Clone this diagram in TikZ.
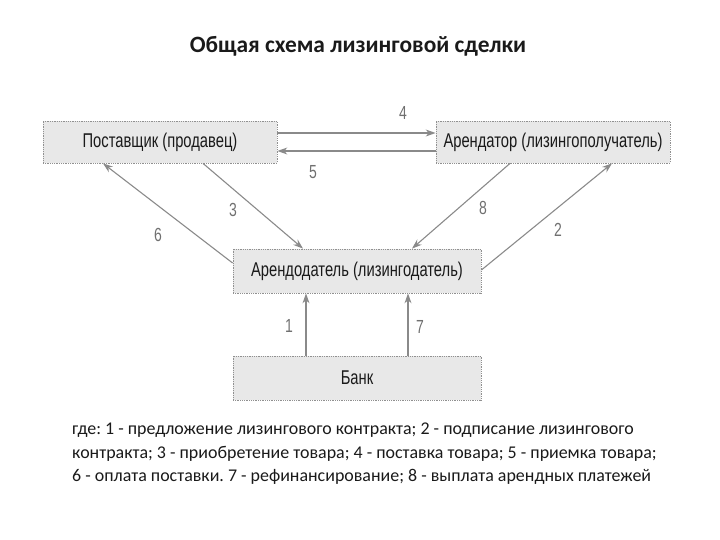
\documentclass[tikz,border=0pt]{standalone}
\usepackage{fontspec}
\setmainfont{Carlito}
\newfontfamily\boxfont[FakeStretch=0.74]{Liberation Sans}
\usetikzlibrary{arrows.meta,calc}
\frenchspacing
\definecolor{boxfill}{HTML}{E8E8E8}
\definecolor{boxline}{HTML}{909090}
\definecolor{arr}{HTML}{8A8A8A}
\definecolor{txt}{HTML}{1A1A1A}
\definecolor{numc}{HTML}{707070}
\tikzset{
  box/.style={draw=boxline, densely dotted, line width=0.8pt, fill=boxfill,
    inner sep=0pt, text=txt, font=\boxfont\fontsize{20}{22}\selectfont},
  flow/.style={draw=arr, line width=1.1pt, -{Stealth[length=10pt,width=7pt]}},
  num/.style={text=numc, font=\boxfont\fontsize{19}{20}\selectfont, inner sep=0pt},
}
\begin{document}
\begin{tikzpicture}[x=1bp,y=-1bp]
\useasboundingbox (0,0) rectangle (720,540);
\node[font=\bfseries\fontsize{23.5}{26}\selectfont, text=txt] (title) at (358,46) {Общая схема лизинговой сделки};
\node[box, minimum width=234bp, minimum height=42bp] (p) at (160,142) {Поставщик (продавец)};
\node[box, minimum width=234bp, minimum height=42bp] (r) at (553,142) {Арендатор (лизингополучатель)};
\node[box, minimum width=248bp, minimum height=44bp] (a) at (357,271) {Арендодатель (лизингодатель)};
\node[box, minimum width=248bp, minimum height=44bp] (b) at (357,378) {Банк};
% arrows
\draw[flow] ([yshift=9bp]p.east) -- ([yshift=9bp]r.west);
\draw[flow] ([yshift=-9bp]r.west) -- ([yshift=-9bp]p.east);
\draw[flow] ([xshift=43bp]p.south) -- ([xshift=-54bp]a.north);
\draw[flow] ([yshift=8bp]a.west) -- ([xshift=-57bp]p.south);
\draw[flow] ([xshift=-43bp]r.south) -- ([xshift=55bp]a.north);
\draw[flow] ([yshift=1bp]a.east) -- ([xshift=59bp]r.south);
\draw[flow] ([xshift=-51bp]b.north) -- ([xshift=-51bp]a.south);
\draw[flow] ([xshift=51bp]b.north) -- ([xshift=51bp]a.south);
% labels
\node[num] (n4) at (403,113) {4};
\node[num] (n5) at (313,172) {5};
\node[num] (n3) at (233,210) {3};
\node[num] (n6) at (158,235) {6};
\node[num] (n8) at (483,208) {8};
\node[num] (n2) at (558,230) {2};
\node[num] (n1) at (289,326) {1};
\node[num] (n7) at (420,327) {7};
% legend
\node[anchor=north west, align=left, inner sep=0pt, text=txt, font=\fontsize{18}{23.5}\selectfont] (legend) at (72,423)
{где: 1 - предложение лизингового контракта; 2 - подписание лизингового\\
контракта; 3 - приобретение товара; 4 - поставка товара; 5 - приемка товара;\\
6 - оплата поставки. 7 - рефинансирование; 8 - выплата арендных платежей};
\end{tikzpicture}
\end{document}
